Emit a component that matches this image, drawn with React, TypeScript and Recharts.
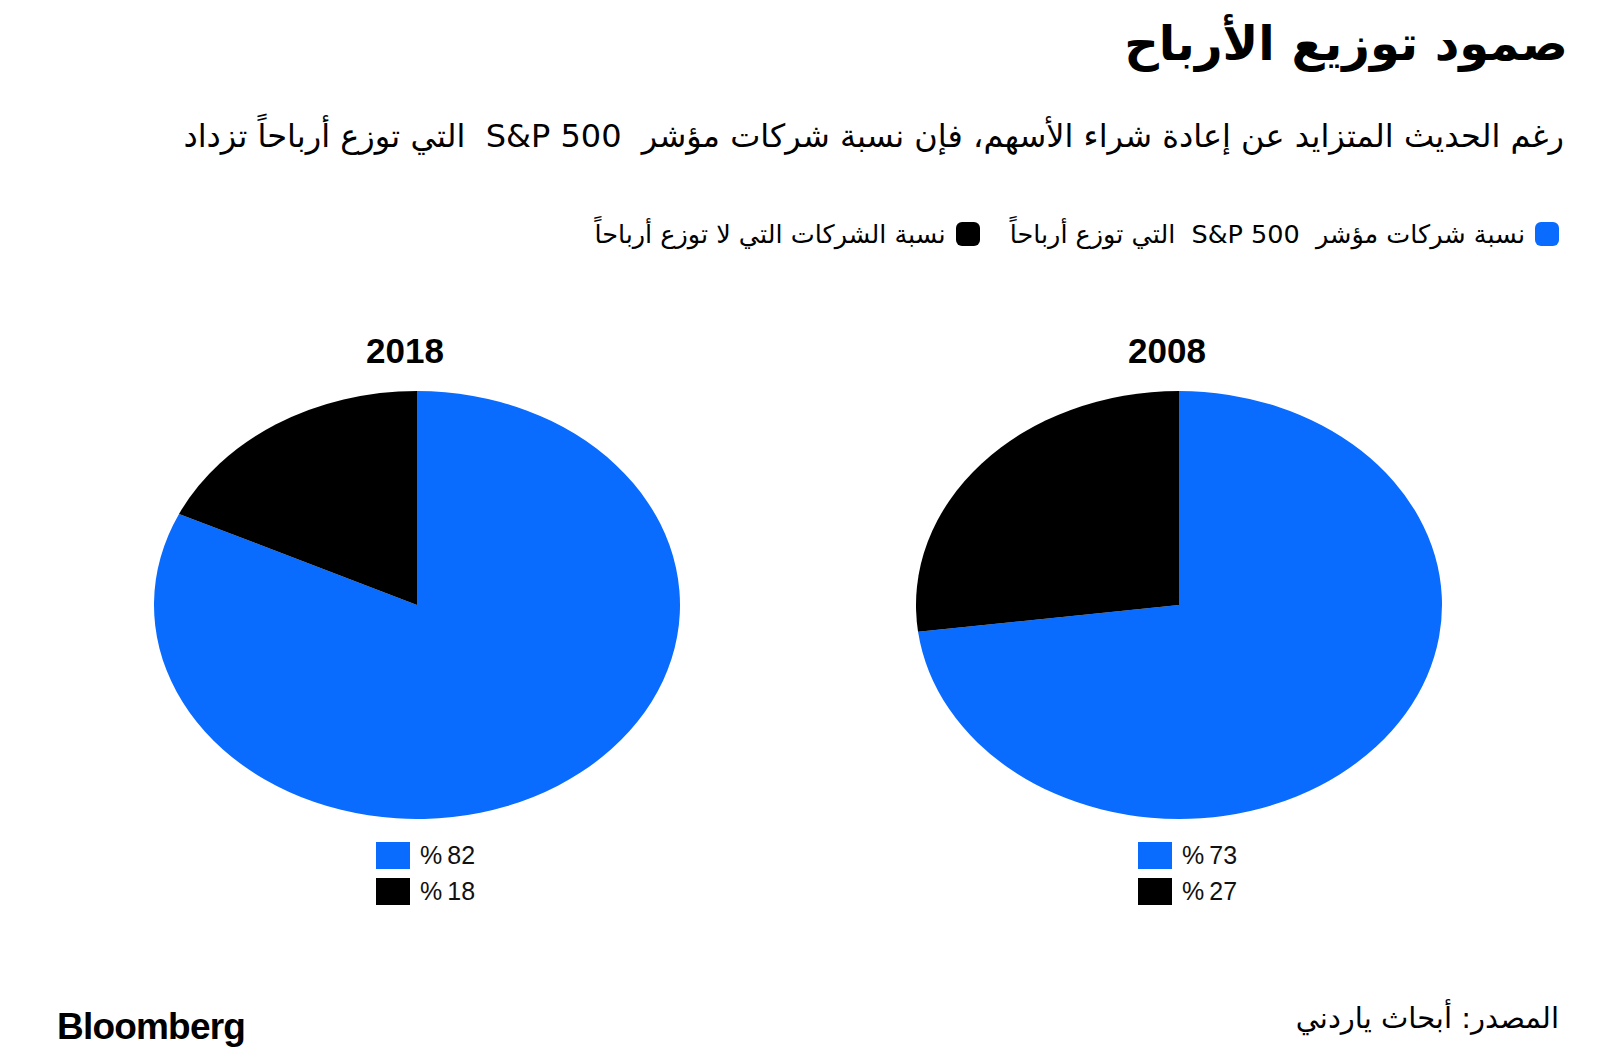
import React from 'react';
import { PieChart, Pie, Cell } from 'recharts';

const years = ['2018', '2008'];
const payers = [82, 73];
const nonPayers = [18, 27];
const seriesNames = ['نسبة شركات مؤشر  S&P 500  التي توزع أرباحاً', 'نسبة الشركات التي لا توزع أرباحاً'];
const colors = ['#0a6cff', '#000000'];

const FONT = '"DejaVu Sans", "Noto Sans", sans-serif';
const RY = 214;
const RX = 263;
const centers = [417, 1179];
const CY = 605;

function YearPie({ idx }: { idx: number }) {
  const data = [
    { name: seriesNames[0], value: payers[idx] },
    { name: seriesNames[1], value: nonPayers[idx] },
  ];
  const size = 480;
  const cx = centers[idx];
  return (
    <>
      <div
        style={{
          position: 'absolute',
          left: cx - 212,
          width: 400,
          top: 331,
          textAlign: 'center',
          fontFamily: '"Liberation Sans", Arial, sans-serif',
          fontWeight: 700,
          fontSize: 35,
          color: '#000',
        }}
      >
        {years[idx]}
      </div>
      <div
        style={{
          position: 'absolute',
          left: cx - size / 2,
          top: CY - size / 2,
          width: size,
          height: size,
          transform: `scaleX(${RX / RY})`,
          transformOrigin: 'center center',
        }}
      >
        <PieChart width={size} height={size} margin={{ top: 0, right: 0, bottom: 0, left: 0 }}>
          <Pie
            data={data}
            dataKey="value"
            cx="50%"
            cy="50%"
            outerRadius={RY}
            innerRadius={0}
            startAngle={90}
            endAngle={-270}
            stroke="none"
            isAnimationActive={false}
          >
            {data.map((d, i) => (
              <Cell key={d.name} fill={colors[i]} />
            ))}
          </Pie>
        </PieChart>
      </div>
      <div style={{ position: 'absolute', left: cx - 41, top: 837 }}>
        {data.map((d, i) => (
          <div key={d.name} style={{ display: 'flex', alignItems: 'center', height: 36 }}>
            <div style={{ width: 34, height: 27, background: colors[i] }} />
            <span
              style={{
                marginLeft: 10,
                fontFamily: '"Liberation Sans", Arial, sans-serif',
                fontSize: 25,
                color: '#111',
                direction: 'ltr',
              }}
            >
              {'%' + '\u2009' + d.value}
            </span>
          </div>
        ))}
      </div>
    </>
  );
}

export default function App() {
  return (
    <div
      style={{
        position: 'absolute',
        left: 0,
        top: 0,
        width: 1600,
        height: 1060,
        background: '#fff',
        overflow: 'hidden',
        fontFamily: FONT,
      }}
    >
      <div
        style={{
          position: 'absolute',
          right: 32,
          top: 15,
          direction: 'rtl',
          fontSize: 48,
          fontWeight: 700,
          color: '#000',
          whiteSpace: 'nowrap',
        }}
      >
        صمود توزيع الأرباح
      </div>
      <div
        style={{
          position: 'absolute',
          right: 36,
          top: 117,
          direction: 'rtl',
          fontSize: 32,
          color: '#000',
          whiteSpace: 'pre',
        }}
      >
        {'رغم الحديث المتزايد عن إعادة شراء الأسهم، فإن نسبة شركات مؤشر  S&P 500  التي توزع أرباحاً تزداد'}
      </div>
      <div
        style={{
          position: 'absolute',
          right: 41,
          top: 219,
          direction: 'rtl',
          display: 'flex',
          alignItems: 'center',
          gap: 30,
          fontSize: 25.5,
          color: '#000',
          whiteSpace: 'pre',
        }}
      >
        {seriesNames.map((n, i) => (
          <div key={n} style={{ display: 'flex', alignItems: 'center', gap: 10 }}>
            <div style={{ width: 24, height: 24, borderRadius: 6, background: colors[i] }} />
            <span>{n}</span>
          </div>
        ))}
      </div>
      <YearPie idx={0} />
      <YearPie idx={1} />
      <div
        style={{
          position: 'absolute',
          left: 57,
          top: 1006,
          fontFamily: '"Liberation Sans", Arial, sans-serif',
          fontWeight: 700,
          fontSize: 37,
          letterSpacing: -0.8,
          color: '#000',
        }}
      >
        Bloomberg
      </div>
      <div
        style={{
          position: 'absolute',
          right: 41,
          top: 1001,
          direction: 'rtl',
          fontSize: 29,
          color: '#000',
          whiteSpace: 'nowrap',
        }}
      >
        المصدر: أبحاث ياردني
      </div>
    </div>
  );
}
